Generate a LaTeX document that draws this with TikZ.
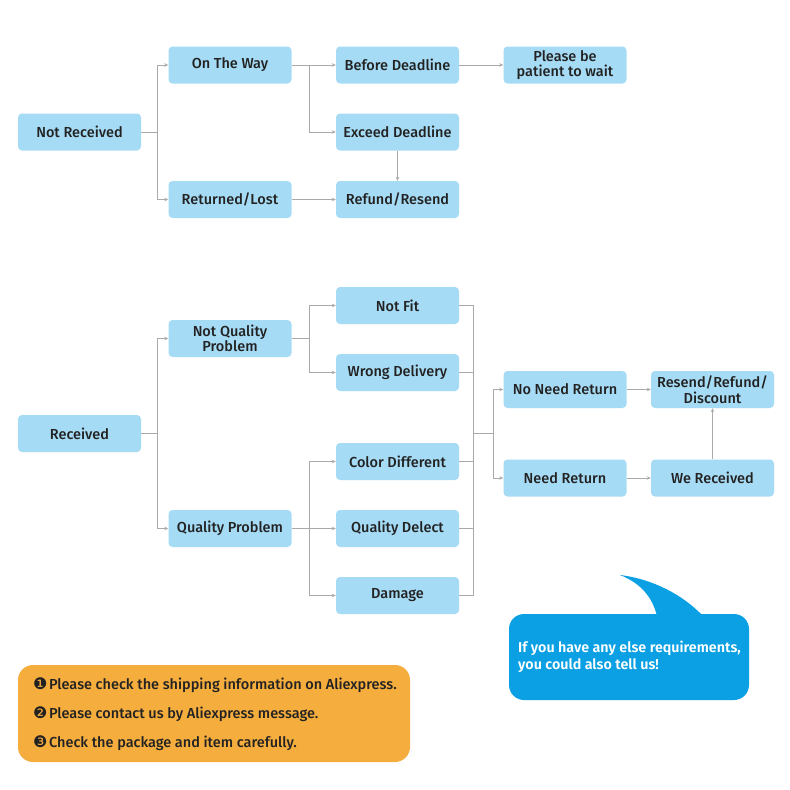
\documentclass[tikz,border=0pt]{standalone}
\usepackage{fontspec}
\setmainfont{Fira Sans Medium}[BoldFont={Fira Sans SemiBold}]
\newfontfamily\symfont{DejaVu Sans}
\usetikzlibrary{arrows.meta}
\definecolor{boxblue}{HTML}{A6DBF5}
\definecolor{linegray}{HTML}{AAAAAA}
\definecolor{txtdark}{HTML}{222222}
\definecolor{bubbleblue}{HTML}{0BA0E3}
\definecolor{noteorange}{HTML}{F5AD3E}
\tikzset{
  box/.style={draw=none,fill=boxblue,rounded corners=4pt,minimum width=123pt,minimum height=37pt,
    inner sep=1pt,align=center,font=\fontsize{14.5}{15.5}\selectfont,text=txtdark},
  conn/.style={draw=linegray,line width=0.8pt},
  arr/.style={conn,-{Stealth[length=4pt,width=3.5pt]}},
}
\newcommand{\circnum}[1]{{\symfont\fontsize{16}{16}\selectfont #1}\hspace{1.5pt}}
\begin{document}
\begin{tikzpicture}[x=1pt,y=-1pt]
\useasboundingbox (0,0) rectangle (790,790);
\fill[white] (0,0) rectangle (790,790);
% top section
\node[box] (nr) at (79.5,132) {Not Received};
\node[box] (otw) at (230,65) {On The Way};
\node[box] (rl) at (230,199.5) {Returned/Lost};
\node[box] (bd) at (397.5,65) {Before Deadline};
\node[box] (pb) at (565,65) {Please be\\patient to wait};
\node[box] (ed) at (397.5,132) {Exceed Deadline};
\node[box] (rr) at (397.5,199.5) {Refund/Resend};
\coordinate (j1) at (157,132);
\coordinate (j2) at (309,65);
\draw[conn] (nr.east) -- (j1);
\draw[arr] (j1) |- (otw.west);
\draw[arr] (j1) |- (rl.west);
\draw[arr] (otw.east) -- (bd.west);
\draw[arr] (j2) |- (ed.west);
\draw[arr] (bd.east) -- (pb.west);
\draw[arr] (ed.south) -- (rr.north);
\draw[arr] (rl.east) -- (rr.west);
% lower section
\node[box] (rc) at (79.5,433.5) {Received};
\node[box] (nq) at (230,338.5) {Not Quality\\Problem};
\node[box] (qp) at (230,528.5) {Quality Problem};
\node[box] (nf) at (397.5,305.5) {Not Fit};
\node[box] (wd) at (397.5,372.5) {Wrong Delivery};
\node[box] (cd) at (397.5,461.5) {Color Different};
\node[box] (qd) at (397.5,528.5) {Quality Delect};
\node[box] (dm) at (397.5,595.5) {Damage};
\node[box] (nnr) at (565,389.5) {No Need Return};
\node[box] (ndr) at (565,478) {Need Return};
\node[box] (rrd) at (712.5,389.5) {Resend/Refund/\\Discount};
\node[box] (wr) at (712.5,478) {We Received};
\coordinate (j3) at (157,433.5);
\coordinate (j4) at (309,338.5);
\coordinate (j5) at (309,528.5);
\coordinate (j6t) at (473,305.5);
\coordinate (j6b) at (473,595.5);
\coordinate (j6) at (473,433.5);
\coordinate (j7) at (493,433.5);
\draw[conn] (rc.east) -- (j3);
\draw[arr] (j3) |- (nq.west);
\draw[arr] (j3) |- (qp.west);
\draw[conn] (nq.east) -- (j4);
\draw[arr] (j4) |- (nf.west);
\draw[arr] (j4) |- (wd.west);
\draw[arr] (qp.east) -- (qd.west);
\draw[arr] (j5) |- (cd.west);
\draw[arr] (j5) |- (dm.west);
\draw[conn] (nf.east) -| (j6t) -- (j6b) -- (dm.east);
\draw[conn] (wd.east) -- (wd.east -| j6);
\draw[conn] (cd.east) -- (cd.east -| j6);
\draw[conn] (qd.east) -- (qd.east -| j6);
\draw[conn] (j6) -- (j7);
\draw[arr] (j7) |- (nnr.west);
\draw[arr] (j7) |- (ndr.west);
\draw[arr] (nnr.east) -- (rrd.west);
\draw[arr] (ndr.east) -- (wr.west);
\draw[arr] (wr.north) -- (rrd.south);
% speech bubble
\fill[bubbleblue] (657,616) .. controls (652,596) and (640,583) .. (620,575)
  .. controls (652,579) and (682,594) .. (703,616) -- cycle;
\node[fill=bubbleblue,rounded corners=15pt,minimum width=240pt,minimum height=86pt,inner sep=0pt] (bub) at (629,657) {};
\node[anchor=west,align=left,text=white,font=\bfseries\fontsize{14.3}{17}\selectfont,inner sep=0pt] (bubtxt) at (518,657) {If you have any else requirements,\\you could also tell us!};
% orange note
\node[fill=noteorange,rounded corners=15pt,minimum width=392pt,minimum height=97pt,inner sep=0pt] (note) at (214,713.5) {};
\node[anchor=west,align=left,text=txtdark,font=\fontsize{14.5}{29}\selectfont,inner sep=0pt] (notetxt) at (33,714.5)
 {\circnum{❶}Please check the shipping information on Aliexpress.\\
  \circnum{❷}Please contact us by Aliexpress message.\\
  \circnum{❸}Check the package and item carefully.};
\end{tikzpicture}
\end{document}
